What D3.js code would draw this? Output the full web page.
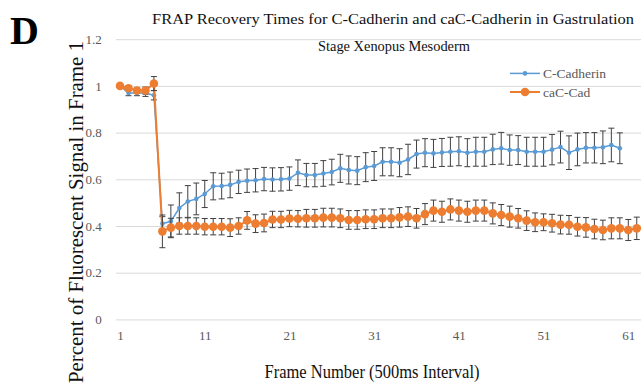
<!DOCTYPE html>
<html>
<head>
<meta charset="utf-8">
<script src="https://cdn.jsdelivr.net/npm/d3@7"></script>
<style>
  html, body { margin: 0; padding: 0; background: #fff; }
  svg text { font-family: "Liberation Serif", "DejaVu Serif", serif; }
</style>
</head>
<body>
<div id="chart"></div>
<script>
// frame numbers (categories)
const frames = [1, 2, 3, 4, 5, 6, 7, 8, 9, 10, 11, 12, 13, 14, 15, 16, 17, 18, 19, 20,
	21, 22, 23, 24, 25, 26, 27, 28, 29, 30, 31, 32, 33, 34, 35, 36, 37, 38, 39, 40,
	41, 42, 43, 44, 45, 46, 47, 48, 49, 50, 51, 52, 53, 54, 55, 56, 57, 58, 59, 60, 61, 62];

// C-Cadherin (frames 1-60)
const cCadherin = [1.0, 0.97, 0.97, 0.97, 0.96, 0.41, 0.42, 0.477, 0.505, 0.516,
	0.537, 0.57, 0.571, 0.576, 0.589, 0.594, 0.596, 0.601, 0.599, 0.6,
	0.603, 0.628, 0.618, 0.618, 0.625, 0.631, 0.647, 0.64, 0.637, 0.652,
	0.657, 0.675, 0.675, 0.671, 0.685, 0.708, 0.714, 0.711, 0.715, 0.718,
	0.72, 0.714, 0.718, 0.718, 0.728, 0.733, 0.725, 0.725, 0.718, 0.718,
	0.718, 0.727, 0.738, 0.714, 0.728, 0.735, 0.735, 0.737, 0.747, 0.733];
const cCadherinErr = [0, 0.012, 0.012, 0.015, 0.02, 0.03, 0.07, 0.065, 0.068, 0.068,
	0.058, 0.058, 0.055, 0.055, 0.05, 0.05, 0.05, 0.05, 0.05, 0.05,
	0.05, 0.055, 0.05, 0.05, 0.055, 0.055, 0.06, 0.06, 0.06, 0.062,
	0.062, 0.06, 0.06, 0.06, 0.065, 0.06, 0.06, 0.06, 0.06, 0.062,
	0.062, 0.06, 0.062, 0.062, 0.065, 0.068, 0.065, 0.062, 0.062, 0.062,
	0.062, 0.065, 0.068, 0.072, 0.07, 0.065, 0.065, 0.07, 0.072, 0.066];

// caC-Cad (frames 1-62)
const caCCad = [1.0, 0.99, 0.98, 0.98, 1.01, 0.377, 0.393, 0.4, 0.4, 0.4,
	0.397, 0.397, 0.397, 0.393, 0.4, 0.424, 0.41, 0.413, 0.428, 0.428,
	0.432, 0.431, 0.433, 0.433, 0.436, 0.436, 0.433, 0.426, 0.426, 0.429,
	0.429, 0.433, 0.433, 0.437, 0.44, 0.433, 0.451, 0.466, 0.461, 0.471,
	0.466, 0.461, 0.466, 0.466, 0.454, 0.447, 0.44, 0.433, 0.423, 0.416,
	0.416, 0.412, 0.406, 0.405, 0.397, 0.394, 0.387, 0.383, 0.39, 0.39,
	0.383, 0.39];
const caCCadErr = [0, 0.01, 0.012, 0.015, 0.03, 0.07, 0.04, 0.035, 0.035, 0.035,
	0.035, 0.035, 0.035, 0.038, 0.035, 0.038, 0.038, 0.038, 0.035, 0.035,
	0.035, 0.035, 0.038, 0.038, 0.04, 0.04, 0.04, 0.04, 0.04, 0.04,
	0.04, 0.04, 0.04, 0.042, 0.042, 0.042, 0.045, 0.045, 0.045, 0.045,
	0.045, 0.045, 0.045, 0.045, 0.045, 0.045, 0.045, 0.042, 0.042, 0.04,
	0.036, 0.038, 0.04, 0.04, 0.04, 0.042, 0.042, 0.042, 0.045, 0.045,
	0.045, 0.048];

const xTicks = [1, 11, 21, 31, 41, 51, 61];
const yTicks = [0, 0.2, 0.4, 0.6, 0.8, 1, 1.2];

const series = [
	{ name: 'C-Cadherin', values: cCadherin, errors: cCadherinErr, color: '#5B9BD5', r: 2.3, lw: 1.5 },
	{ name: 'caC-Cad', values: caCCad, errors: caCCadErr, color: '#ED7D31', r: 4.3, lw: 2 }
];

const W = 644, H = 385;
const serif = '"Liberation Serif", "DejaVu Serif", serif';
const plot = { left: 115.8, right: 641, top: 39.2, bottom: 319.4 };

const svg = d3.select('#chart').append('svg').attr('width', W).attr('height', H);

const x = d3.scaleLinear().domain([0.5, frames.length + 0.5]).range([plot.left, plot.right]);
const y = d3.scaleLinear().domain([0, 1.2]).range([plot.bottom, plot.top]);

// gridlines
svg.append('g')
	.attr('transform', `translate(${plot.left},0)`)
	.call(d3.axisLeft(y).tickValues(yTicks).tickSize(-(plot.right - plot.left)).tickFormat(''))
	.call((g) => g.select('.domain').remove())
	.selectAll('line')
	.attr('stroke', '#d9d9d9')
	.attr('stroke-width', 1);

// y tick labels
svg.append('g')
	.attr('transform', `translate(${plot.left - 11},0)`)
	.call(d3.axisLeft(y).tickValues(yTicks).tickSize(0).tickFormat(d3.format('~g')))
	.attr('font-family', serif)
	.attr('font-size', 13)
	.call((g) => g.select('.domain').remove())
	.selectAll('text')
	.attr('fill', '#595959');

// x tick labels
svg.append('g')
	.attr('transform', `translate(0,${plot.bottom + 8})`)
	.call(d3.axisBottom(x).tickValues(xTicks).tickSize(0).tickFormat(d3.format('d')))
	.attr('font-family', serif)
	.attr('font-size', 13)
	.call((g) => g.select('.domain').remove())
	.selectAll('text')
	.attr('fill', '#595959');

// series
series.forEach((s) => {
	const pts = s.values.map((v, i) => ({ f: frames[i], v, e: s.errors[i] }));
	const g = svg.append('g');

	g.append('path')
		.datum(pts)
		.attr('fill', 'none')
		.attr('stroke', s.color)
		.attr('stroke-width', s.lw)
		.attr('d', d3.line().x((d) => x(d.f)).y((d) => y(d.v)));

	const eb = g.selectAll('.err').data(pts.filter((d) => d.e > 0)).enter().append('g');
	eb.append('line')
		.attr('x1', (d) => x(d.f)).attr('x2', (d) => x(d.f))
		.attr('y1', (d) => y(d.v + d.e)).attr('y2', (d) => y(d.v - d.e));
	eb.append('line')
		.attr('x1', (d) => x(d.f) - 3).attr('x2', (d) => x(d.f) + 3)
		.attr('y1', (d) => y(d.v + d.e)).attr('y2', (d) => y(d.v + d.e));
	eb.append('line')
		.attr('x1', (d) => x(d.f) - 3).attr('x2', (d) => x(d.f) + 3)
		.attr('y1', (d) => y(d.v - d.e)).attr('y2', (d) => y(d.v - d.e));
	eb.selectAll('line').attr('stroke', '#404040').attr('stroke-width', 1);

	g.selectAll('circle')
		.data(pts)
		.enter()
		.append('circle')
		.attr('cx', (d) => x(d.f))
		.attr('cy', (d) => y(d.v))
		.attr('r', s.r)
		.attr('fill', s.color);
});

// legend
const legend = svg.append('g');
series.forEach((s, i) => {
	const ly = 73.4 + i * 18.6;
	legend.append('line')
		.attr('x1', 510).attr('x2', 540).attr('y1', ly).attr('y2', ly)
		.attr('stroke', s.color).attr('stroke-width', s.lw);
	legend.append('circle').attr('cx', 525).attr('cy', ly).attr('r', s.r).attr('fill', s.color);
	legend.append('text')
		.attr('x', 543).attr('y', ly + 4.5)
		.attr('fill', '#595959')
		.attr('font-family', serif)
		.attr('font-size', 13.5)
		.text(s.name);
});

// title
svg.append('text')
	.attr('x', 393).attr('y', 24)
	.attr('text-anchor', 'middle')
	.attr('fill', '#111')
	.attr('font-family', serif)
	.attr('font-size', 15)
	.attr('textLength', 482).attr('lengthAdjust', 'spacingAndGlyphs')
	.text('FRAP Recovery Times for C-Cadherin and caC-Cadherin in Gastrulation');
svg.append('text')
	.attr('x', 394).attr('y', 51)
	.attr('text-anchor', 'middle')
	.attr('fill', '#111')
	.attr('font-family', serif)
	.attr('font-size', 15)
	.attr('textLength', 152).attr('lengthAdjust', 'spacingAndGlyphs')
	.text('Stage Xenopus Mesoderm');

// panel letter
svg.append('text')
	.attr('x', 10).attr('y', 44)
	.attr('fill', '#000')
	.attr('font-family', serif)
	.attr('font-size', 40)
	.attr('font-weight', 'bold')
	.text('D');

// axis titles
svg.append('text')
	.attr('transform', 'translate(83,212) rotate(-90)')
	.attr('text-anchor', 'middle')
	.attr('fill', '#111')
	.attr('font-family', serif)
	.attr('font-size', 21)
	.attr('textLength', 342).attr('lengthAdjust', 'spacingAndGlyphs')
	.text('Percent of Fluorescent Signal in Frame 1');

svg.append('text')
	.attr('x', 372).attr('y', 378)
	.attr('text-anchor', 'middle')
	.attr('fill', '#111')
	.attr('font-family', serif)
	.attr('font-size', 18)
	.attr('textLength', 215).attr('lengthAdjust', 'spacingAndGlyphs')
	.text('Frame Number (500ms Interval)');
</script>
</body>
</html>
